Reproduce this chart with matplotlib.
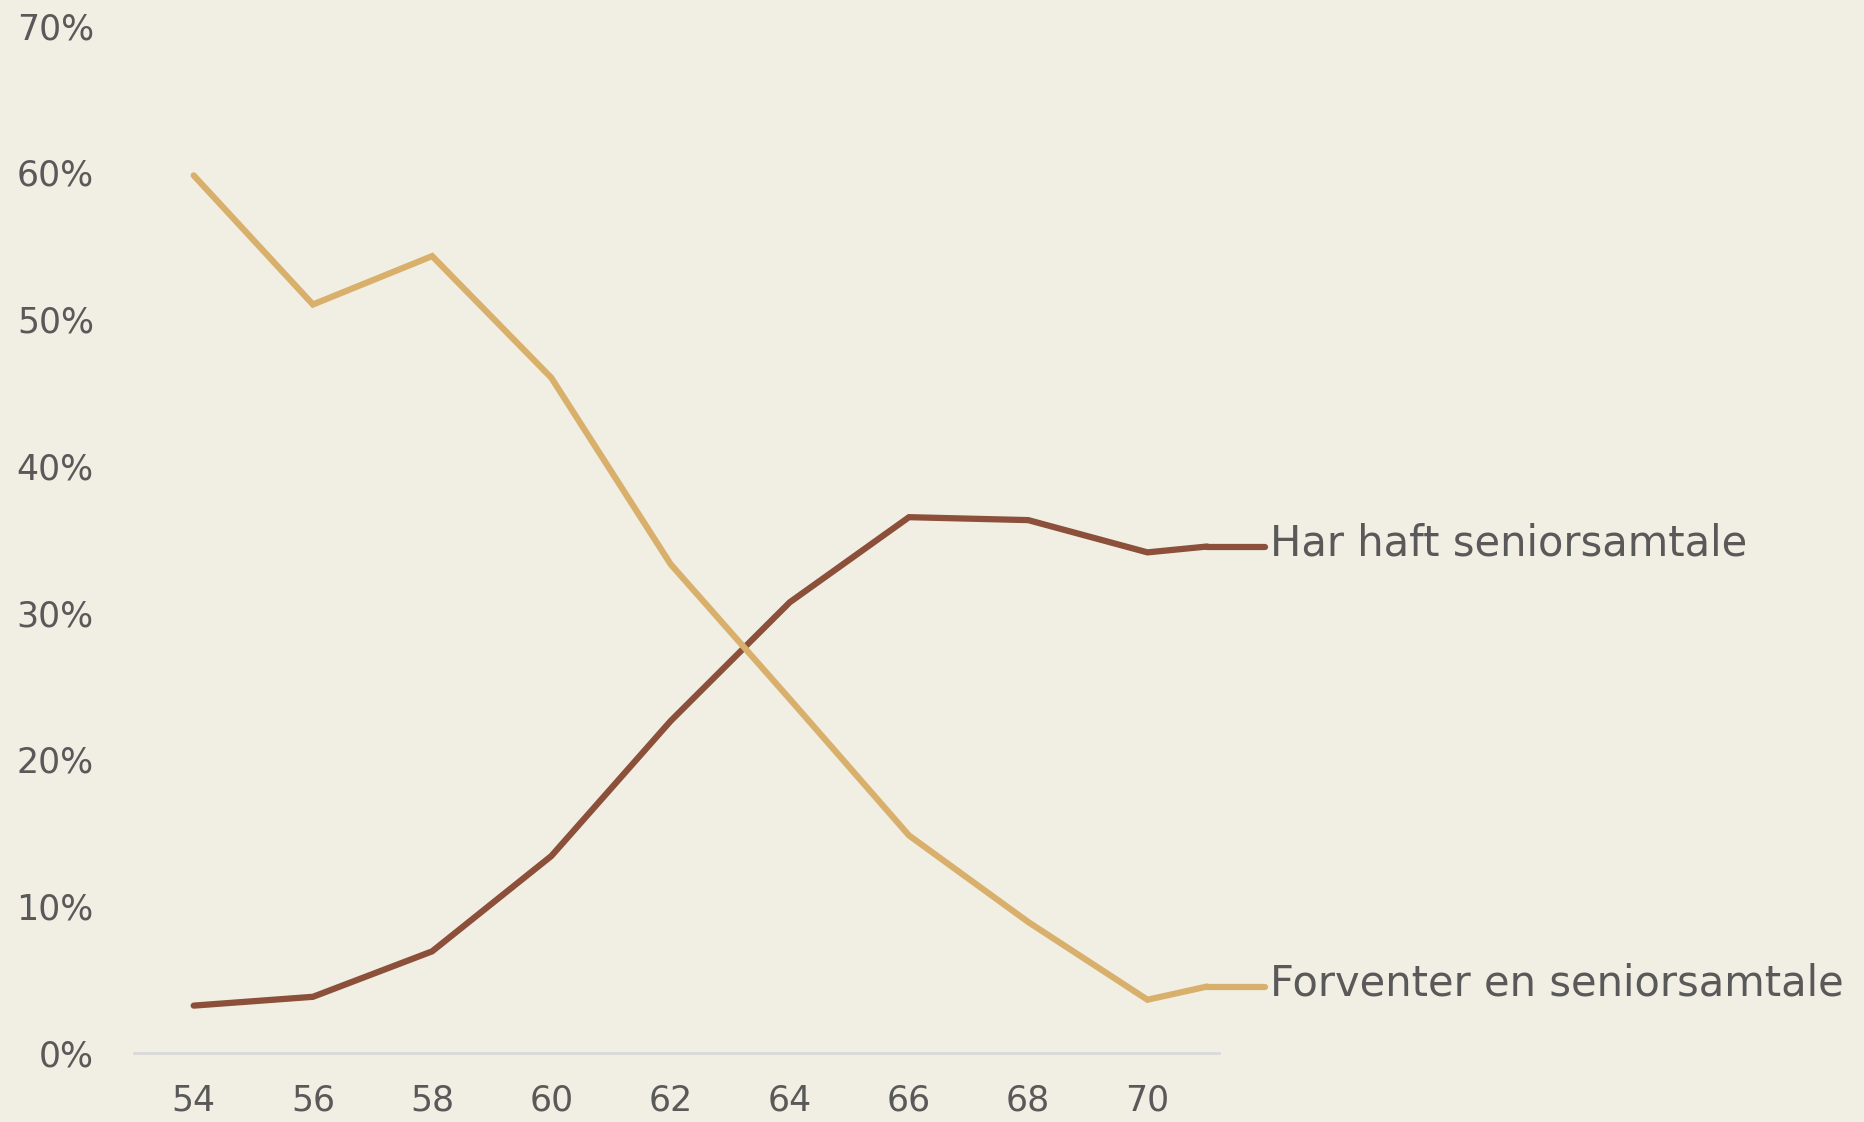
import matplotlib.pyplot as plt
from matplotlib.ticker import PercentFormatter

# ages on x, shares in percent
ages = [54, 56, 58, 60, 62, 64, 66, 68, 70, 71]
har_haft = [3.2, 3.8, 6.9, 13.4, 22.6, 30.7, 36.5, 36.3, 34.1, 34.5]
forventer = [59.8, 51.0, 54.3, 46.0, 33.3, 24.1, 14.8, 8.9, 3.6, 4.5]
x_ticks = [54, 56, 58, 60, 62, 64, 66, 68, 70]
y_ticks = [0, 10, 20, 30, 40, 50, 60, 70]

bg = "#F1EEE3"
text_col = "#595959"
brown = "#8B4F3A"
tan = "#D9B06B"

plt.rcParams["font.family"] = ["DejaVu Sans"]

fig = plt.figure(figsize=(18.65, 11.22), dpi=100, facecolor=bg)
ax = fig.add_axes([0.0719, 0.0619, 0.5817, 0.9151])
ax.set_facecolor(bg)

series = [
    ("Har haft seniorsamtale", har_haft, brown),
    ("Forventer en seniorsamtale", forventer, tan),
]
for label, vals, col in series:
    ax.plot(ages, vals, color=col, lw=4.5, solid_capstyle="round", solid_joinstyle="miter")
    # leader line out to the label
    ax.plot([ages[-1], ages[-1] + 0.97], [vals[-1], vals[-1]], color=col, lw=4.5,
            solid_capstyle="round", clip_on=False)
    ax.text(ages[-1] + 1.06, vals[-1] + 0.2, label, color=text_col, fontsize=30,
            va="center", ha="left", clip_on=False)

ax.set_xlim(53, 71.2)
ax.set_ylim(0, 70)
ax.set_xticks(x_ticks)
ax.set_yticks(y_ticks)
ax.yaxis.set_major_formatter(PercentFormatter(decimals=0))
ax.tick_params(axis="both", length=0, labelsize=25, labelcolor=text_col)
ax.tick_params(axis="y", pad=29)
ax.tick_params(axis="x", pad=22)

for s in ["top", "right", "left"]:
    ax.spines[s].set_visible(False)
ax.spines["bottom"].set_color("#D9D9D9")
ax.spines["bottom"].set_linewidth(2)

fig.savefig("out.png", dpi=100, facecolor=bg)
